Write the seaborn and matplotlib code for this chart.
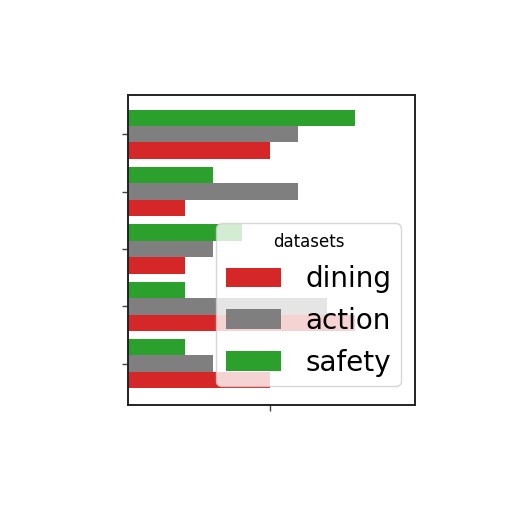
import pandas as pd
import matplotlib
matplotlib.use('Agg')
import matplotlib.pyplot as plt
import seaborn as sns

# dados (grupos de cima para baixo)
categorias = ['g1', 'g2', 'g3', 'g4', 'g5']
dining = [5, 2, 2, 8, 5]
action = [6, 6, 3, 7, 3]
safety = [8, 3, 4, 2, 2]
series = ['dining', 'action', 'safety']
cores = {'dining': '#d62728', 'action': '#7f7f7f', 'safety': '#2ca02c'}

df = pd.DataFrame({
    'categoria': categorias * 3,
    'valor': dining + action + safety,
    'dataset': ['dining'] * 5 + ['action'] * 5 + ['safety'] * 5,
})

sns.set_style('white')
plt.rcParams['text.color'] = 'black'
fig = plt.figure(figsize=(5.12, 5.12), dpi=100)
ax = fig.add_axes([0.25, 0.209, 0.56, 0.605])

sns.barplot(data=df, y='categoria', x='valor', hue='dataset',
            hue_order=['safety', 'action', 'dining'], palette=cores,
            order=categorias, width=0.86, orient='h', saturation=1,
            linewidth=0, edgecolor='none', ax=ax)

ax.set_xlim(0, 10.1)
ax.set_ylim(4.72, -0.68)
ax.set_xticks([5])
ax.set_xticklabels([])
ax.set_yticklabels([])
ax.set_xlabel('')
ax.set_ylabel('')
ax.tick_params(axis='both', length=4, width=1, color='#444444', bottom=True, left=True)
for s in ax.spines.values():
    s.set_color('#222222')
    s.set_linewidth(1.4)

handles, labels = ax.get_legend_handles_labels()
ordem = [labels.index(s) for s in series]
ax.legend([handles[i] for i in ordem], series, title='datasets',
          loc='lower right', fontsize=20, title_fontsize=12,
          handlelength=2.0, handletextpad=0.85, labelspacing=0.5,
          framealpha=0.8, borderpad=0.35,
          bbox_to_anchor=(1.0, 0.015))

fig.savefig('out.png', dpi=100)
